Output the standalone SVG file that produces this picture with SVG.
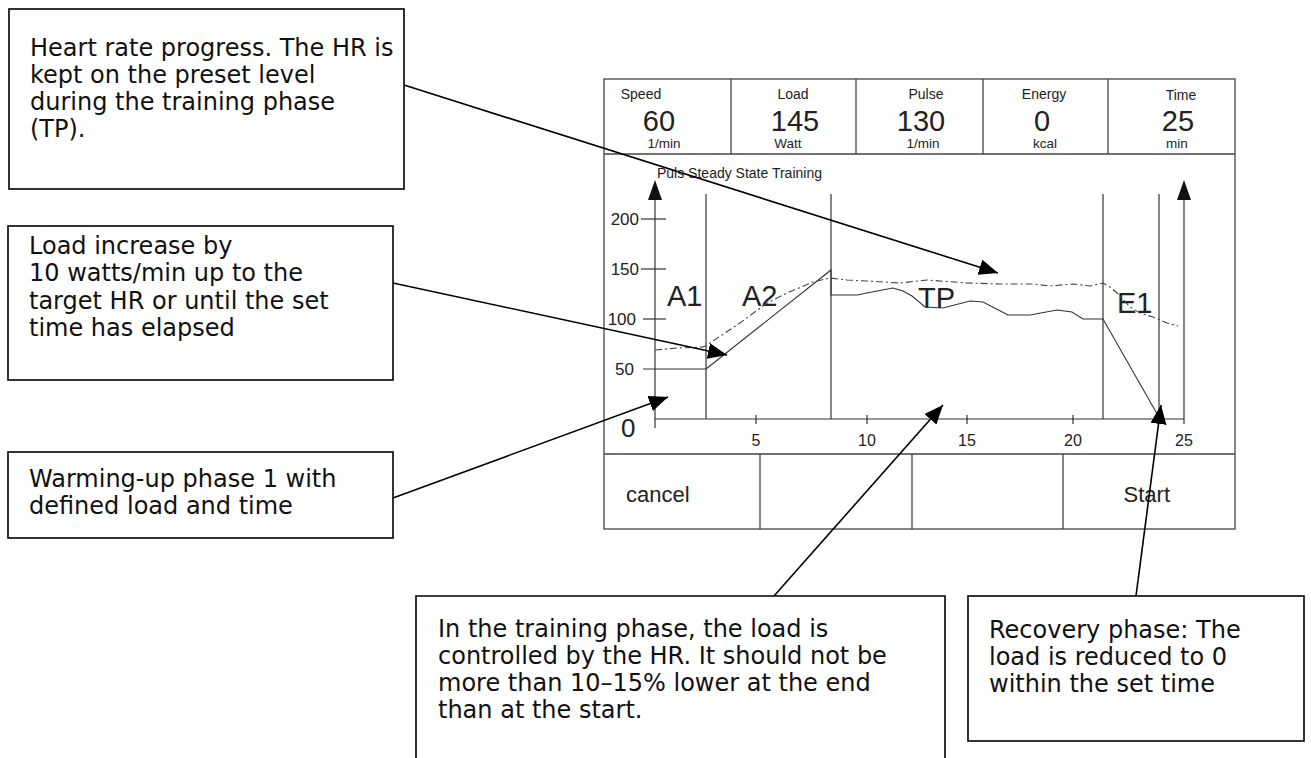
<svg xmlns="http://www.w3.org/2000/svg" width="1311" height="758" viewBox="0 0 1311 758">
<style>
.box{fill:#fff;stroke:#000;stroke-width:1.6}
.note{font-family:"DejaVu Sans",Verdana,sans-serif;font-size:24px;fill:#111}
.frame{fill:none;stroke:#444;stroke-width:1.3}
.ln{fill:none;stroke:#333;stroke-width:1.2}
.scr{font-family:"Liberation Sans",Arial,sans-serif;fill:#222}
.lbl{font-size:14px;text-anchor:middle}
.val{font-size:29px;text-anchor:middle}
.unit{font-size:13.5px;text-anchor:middle}
.ax{font-size:17px;text-anchor:end}
.xl{font-size:16px;text-anchor:middle}
.ph{font-size:29px}
.btn{font-size:22px}
.conn{stroke:#000;stroke-width:1.6;fill:none}
.hr{fill:none;stroke:#444;stroke-width:1.1;stroke-dasharray:7 3 2 3}
.load{fill:none;stroke:#333;stroke-width:1.1}
</style>
<defs>
<marker id="arr" markerUnits="userSpaceOnUse" markerWidth="20" markerHeight="16" refX="19" refY="8" orient="auto">
<path d="M0,0 L19,8 L0,16 z" fill="#000"/>
</marker>
</defs>

<g id="screen">
<rect class="frame" x="604" y="79" width="631" height="450"/>
<line class="frame" x1="604" y1="154" x2="1235" y2="154"/>
<line class="frame" x1="731" y1="79" x2="731" y2="154"/>
<line class="frame" x1="856" y1="79" x2="856" y2="154"/>
<line class="frame" x1="983" y1="79" x2="983" y2="154"/>
<line class="frame" x1="1108" y1="79" x2="1108" y2="154"/>
<line class="frame" x1="604" y1="454" x2="1235" y2="454"/>
<line class="frame" x1="760" y1="454" x2="760" y2="529"/>
<line class="frame" x1="912" y1="454" x2="912" y2="529"/>
<line class="frame" x1="1063" y1="454" x2="1063" y2="529"/>
<g class="scr">
<text class="lbl" x="641" y="99">Speed</text>
<text class="val" x="659" y="131">60</text>
<text class="unit" x="664" y="148">1/min</text>
<text class="lbl" x="793" y="99">Load</text>
<text class="val" x="795" y="131">145</text>
<text class="unit" x="788" y="148">Watt</text>
<text class="lbl" x="926" y="99">Pulse</text>
<text class="val" x="921" y="131">130</text>
<text class="unit" x="923" y="148">1/min</text>
<text class="lbl" x="1044" y="99">Energy</text>
<text class="val" x="1042" y="131">0</text>
<text class="unit" x="1045" y="148">kcal</text>
<text class="lbl" x="1181" y="100">Time</text>
<text class="val" x="1178" y="131">25</text>
<text class="unit" x="1177" y="148">min</text>
<text x="657" y="178" font-size="14">Puls Steady State Training</text>
<text class="btn" x="626" y="502">cancel</text>
<text class="btn" x="1170" y="502" text-anchor="end">Start</text>
</g>
</g>

<g id="chart">
<line class="ln" x1="655" y1="196" x2="655" y2="428"/>
<path d="M655,180 L662,200 L648,200 z" fill="#111"/>
<line class="ln" x1="1184" y1="196" x2="1184" y2="419"/>
<path d="M1184,180 L1191,200 L1177,200 z" fill="#111"/>
<line class="ln" x1="655" y1="419" x2="1184" y2="419"/>
<line class="ln" x1="641" y1="219" x2="666" y2="219"/>
<line class="ln" x1="641" y1="269" x2="666" y2="269"/>
<line class="ln" x1="643" y1="319" x2="666" y2="319"/>
<line class="ln" x1="643" y1="369" x2="706" y2="369"/>
<line class="ln" x1="756" y1="415" x2="756" y2="424"/>
<line class="ln" x1="867" y1="415" x2="867" y2="424"/>
<line class="ln" x1="967" y1="415" x2="967" y2="424"/>
<line class="ln" x1="1073" y1="415" x2="1073" y2="424"/>
<line class="ln" x1="1184" y1="419" x2="1184" y2="424"/>
<line class="ln" x1="706" y1="194" x2="706" y2="419"/>
<line class="ln" x1="831" y1="194" x2="831" y2="419"/>
<line class="ln" x1="1103" y1="194" x2="1103" y2="419"/>
<line class="ln" x1="1159" y1="194" x2="1159" y2="419"/>
<g class="scr">
<text class="ax" x="639" y="225">200</text>
<text class="ax" x="639" y="275">150</text>
<text class="ax" x="636" y="325">100</text>
<text class="ax" x="634" y="375">50</text>
<text x="621" y="437" font-size="26">0</text>
<text class="xl" x="756" y="446">5</text>
<text class="xl" x="867" y="446">10</text>
<text class="xl" x="967" y="446">15</text>
<text class="xl" x="1073" y="446">20</text>
<text class="xl" x="1184" y="446">25</text>
<text class="ph" x="667" y="306">A1</text>
<text class="ph" x="742" y="306">A2</text>
<text class="ph" x="918" y="308">TP</text>
<text class="ph" x="1117" y="313">E1</text>
</g>
<polyline class="load" points="706,369 831,270 831,295 857,295 877,291 893,288 903,291 912,296 925,307 943,308 970,301 983,302 1008,315 1030,315 1057,310 1072,312 1083,319 1103,319 1160,419"/>
<polyline class="hr" points="655,350 677,348 703,347 707,345 740,323 767,303 787,293 813,282 830,278 847,280 867,281 900,283 927,280 967,283 1000,284 1033,284 1050,286 1073,284 1090,286 1103,283 1110,287 1117,293 1130,307 1140,313 1153,317 1167,323 1178,326"/>
</g>

<g id="connectors">
<line class="conn" x1="404" y1="85" x2="998" y2="273" marker-end="url(#arr)"/>
<line class="conn" x1="393" y1="283" x2="727" y2="355" marker-end="url(#arr)"/>
<line class="conn" x1="393" y1="498" x2="668" y2="397" marker-end="url(#arr)"/>
<line class="conn" x1="774" y1="596" x2="943" y2="405" marker-end="url(#arr)"/>
<line class="conn" x1="1136" y1="596" x2="1161" y2="405" marker-end="url(#arr)"/>
</g>

<g id="note-hr">
<rect class="box" x="9" y="9" width="395" height="180"/>
<text class="note"><tspan x="30" y="56">Heart rate progress. The HR is</tspan><tspan x="30" y="83">kept on the preset level</tspan><tspan x="30" y="110">during the training phase</tspan><tspan x="30" y="137">(TP).</tspan></text>
</g>
<g id="note-load">
<rect class="box" x="8" y="226" width="385" height="154"/>
<text class="note"><tspan x="29" y="254">Load increase by</tspan><tspan x="29" y="281">10 watts/min up to the</tspan><tspan x="29" y="309">target HR or until the set</tspan><tspan x="29" y="336">time has elapsed</tspan></text>
</g>
<g id="note-warmup">
<rect class="box" x="8" y="452" width="385" height="86"/>
<text class="note"><tspan x="29" y="487">Warming-up phase 1 with</tspan><tspan x="29" y="514">defined load and time</tspan></text>
</g>
<g id="note-training">
<path class="box" d="M416,760 L416,596 L945,596 L945,760"/>
<text class="note"><tspan x="438" y="637">In the training phase, the load is</tspan><tspan x="438" y="664">controlled by the HR. It should not be</tspan><tspan x="438" y="691">more than 10–15% lower at the end</tspan><tspan x="438" y="718">than at the start.</tspan></text>
</g>
<g id="note-recovery">
<rect class="box" x="968" y="596" width="336" height="145"/>
<text class="note"><tspan x="989" y="638">Recovery phase: The</tspan><tspan x="989" y="665">load is reduced to 0</tspan><tspan x="989" y="692">within the set time</tspan></text>
</g>
</svg>
